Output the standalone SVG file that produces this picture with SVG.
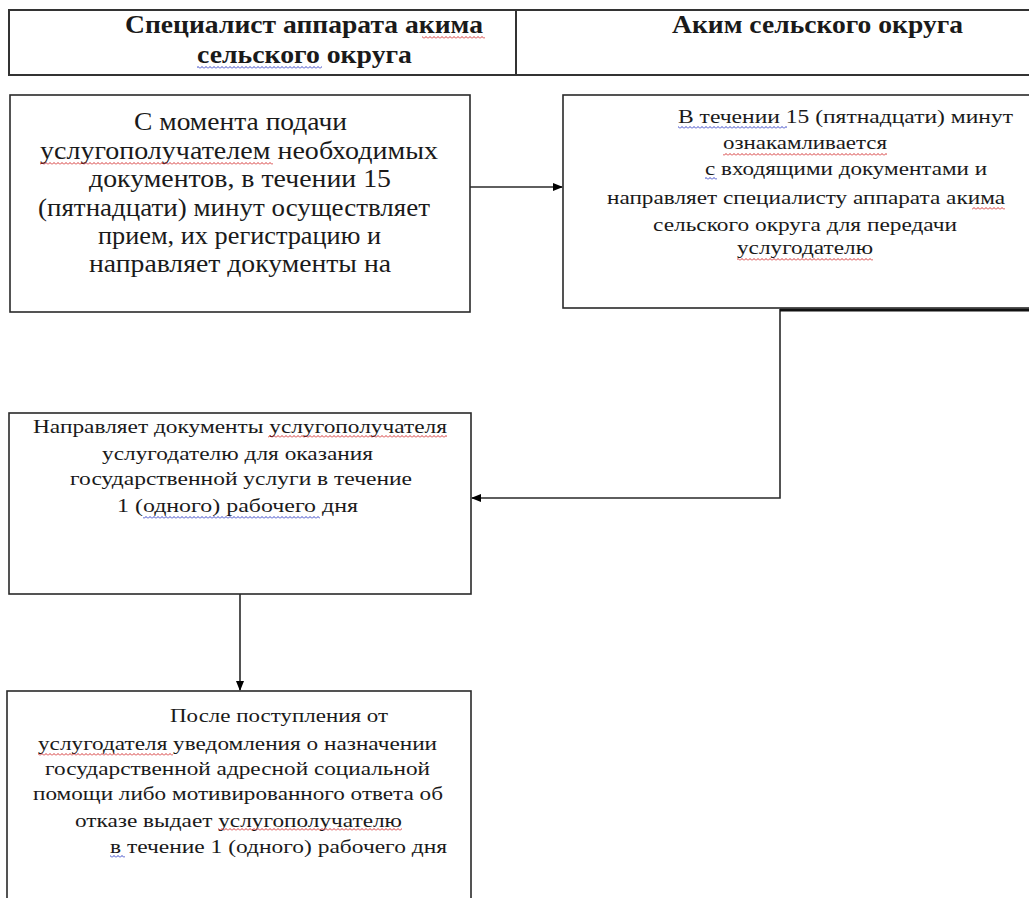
<svg xmlns="http://www.w3.org/2000/svg" width="1029" height="898" viewBox="0 0 1029 898" font-family="'Liberation Serif', 'Times New Roman', serif">
  <style>
    text { font-family: "Liberation Serif", "Times New Roman", serif; fill: #1a1a1a; }
    .hd { font-size: 25px; font-weight: bold; }
    .big { font-size: 25px; }
    .sm { font-size: 19.5px; }
    .box { fill: #ffffff; stroke: #2a2a2a; stroke-width: 1.6; }
    .frame { fill: none; stroke: #333333; stroke-width: 2; }
    .conn { fill: none; stroke: #2a2a2a; stroke-width: 1.6; }
  </style>
  <defs>
    <marker id="arrow" markerWidth="10" markerHeight="8" refX="9" refY="4" orient="auto" markerUnits="userSpaceOnUse">
      <path d="M0,0 L10,4 L0,8 Z" fill="#000000"/>
    </marker>
    <!-- spell-check style wavy underlines -->
    <pattern id="waveRed" width="4" height="3" patternUnits="userSpaceOnUse">
      <polyline points="0,2.5 2,0.5 4,2.5" fill="none" stroke="#d02020" stroke-width="0.9"/>
    </pattern>
    <pattern id="waveBlue" width="4" height="3" patternUnits="userSpaceOnUse">
      <polyline points="0,2.5 2,0.5 4,2.5" fill="none" stroke="#2030c0" stroke-width="0.9"/>
    </pattern>
  </defs>

  <rect width="1029" height="898" fill="#ffffff"/>

  <!-- lane headers -->
  <g id="header">
    <rect class="frame" x="9" y="10" width="1030" height="65"/>
    <line class="frame" x1="516" y1="10" x2="516" y2="75"/>
    <text class="hd" x="125" y="33" textLength="358" lengthAdjust="spacingAndGlyphs">Специалист аппарата акима</text>
    <text class="hd" x="197" y="63" textLength="215" lengthAdjust="spacingAndGlyphs">сельского округа</text>
    <text class="hd" x="672" y="33" textLength="291" lengthAdjust="spacingAndGlyphs">Аким сельского округа</text>
    <rect x="422" y="36" width="63" height="3" fill="url(#waveRed)"/>
    <rect x="197" y="66" width="125" height="3" fill="url(#waveBlue)"/>
  </g>

  <!-- connectors -->
  <g id="connectors">
    <path class="conn" d="M470,187 H562" marker-end="url(#arrow)"/>
    <path class="conn" d="M780,309 V498 H472" marker-end="url(#arrow)"/>
    <path class="conn" d="M240,594 V690" marker-end="url(#arrow)"/>
    <line x1="780" y1="310" x2="1029" y2="310" stroke="#111111" stroke-width="3"/>
  </g>

  <!-- step 1: receipt of documents -->
  <g id="step1">
    <rect class="box" x="10" y="95" width="460" height="217"/>
    <text class="big" x="134" y="130" textLength="213" lengthAdjust="spacingAndGlyphs">С момента подачи</text>
    <text class="big" x="40" y="159" textLength="398" lengthAdjust="spacingAndGlyphs">услугополучателем необходимых</text>
    <text class="big" x="89" y="187" textLength="302" lengthAdjust="spacingAndGlyphs">документов, в течении 15</text>
    <text class="big" x="38" y="216" textLength="392" lengthAdjust="spacingAndGlyphs">(пятнадцати) минут осуществляет</text>
    <text class="big" x="98" y="244" textLength="283" lengthAdjust="spacingAndGlyphs">прием, их регистрацию и</text>
    <text class="big" x="89" y="272" textLength="302" lengthAdjust="spacingAndGlyphs">направляет документы на</text>
    <rect x="40" y="162" width="233" height="3" fill="url(#waveRed)"/>
  </g>

  <!-- step 2: akim reviews -->
  <g id="step2">
    <rect class="box" x="563" y="95" width="470" height="213"/>
    <text class="sm" x="678" y="123" textLength="335" lengthAdjust="spacingAndGlyphs">В течении 15 (пятнадцати) минут</text>
    <text class="sm" x="723" y="149" textLength="164" lengthAdjust="spacingAndGlyphs">ознакамливается</text>
    <text class="sm" x="705" y="175" textLength="282" lengthAdjust="spacingAndGlyphs">с входящими документами и</text>
    <text class="sm" x="607" y="204" textLength="398" lengthAdjust="spacingAndGlyphs">направляет специалисту аппарата акима</text>
    <text class="sm" x="653" y="231" textLength="304" lengthAdjust="spacingAndGlyphs">сельского округа для передачи</text>
    <text class="sm" x="737" y="254" textLength="136" lengthAdjust="spacingAndGlyphs">услугодателю</text>
    <rect x="678" y="126" width="109" height="3" fill="url(#waveBlue)"/>
    <rect x="723" y="153" width="164" height="3" fill="url(#waveRed)"/>
    <rect x="705" y="177" width="12" height="3" fill="url(#waveBlue)"/>
    <rect x="972" y="207" width="33" height="3" fill="url(#waveRed)"/>
    <rect x="737" y="258" width="136" height="3" fill="url(#waveRed)"/>
  </g>

  <!-- step 3: forwarding to service provider -->
  <g id="step3">
    <rect class="box" x="9" y="413" width="462" height="181"/>
    <text class="sm" x="33" y="433" textLength="414" lengthAdjust="spacingAndGlyphs">Направляет документы услугополучателя</text>
    <text class="sm" x="102" y="460" textLength="271" lengthAdjust="spacingAndGlyphs">услугодателю для оказания</text>
    <text class="sm" x="70" y="485" textLength="342" lengthAdjust="spacingAndGlyphs">государственной услуги в течение</text>
    <text class="sm" x="117" y="512" textLength="241" lengthAdjust="spacingAndGlyphs">1 (одного) рабочего дня</text>
    <rect x="268" y="435" width="179" height="3" fill="url(#waveRed)"/>
    <rect x="143" y="516" width="177" height="3" fill="url(#waveBlue)"/>
  </g>

  <!-- step 4: issuing the result -->
  <g id="step4">
    <rect class="box" x="7" y="691" width="464" height="220"/>
    <text class="sm" x="170" y="722" textLength="218" lengthAdjust="spacingAndGlyphs">После поступления от</text>
    <text class="sm" x="38" y="750" textLength="399" lengthAdjust="spacingAndGlyphs">услугодателя уведомления о назначении</text>
    <text class="sm" x="45" y="775" textLength="385" lengthAdjust="spacingAndGlyphs">государственной адресной социальной</text>
    <text class="sm" x="33" y="800" textLength="410" lengthAdjust="spacingAndGlyphs">помощи либо мотивированного ответа об</text>
    <text class="sm" x="75" y="827" textLength="327" lengthAdjust="spacingAndGlyphs">отказе выдает услугополучателю</text>
    <text class="sm" x="110" y="853" textLength="337" lengthAdjust="spacingAndGlyphs">в течение 1 (одного) рабочего дня</text>
    <rect x="38" y="753" width="135" height="3" fill="url(#waveRed)"/>
    <rect x="218" y="828" width="184" height="3" fill="url(#waveRed)"/>
    <rect x="110" y="855" width="15" height="3" fill="url(#waveBlue)"/>
  </g>
</svg>
